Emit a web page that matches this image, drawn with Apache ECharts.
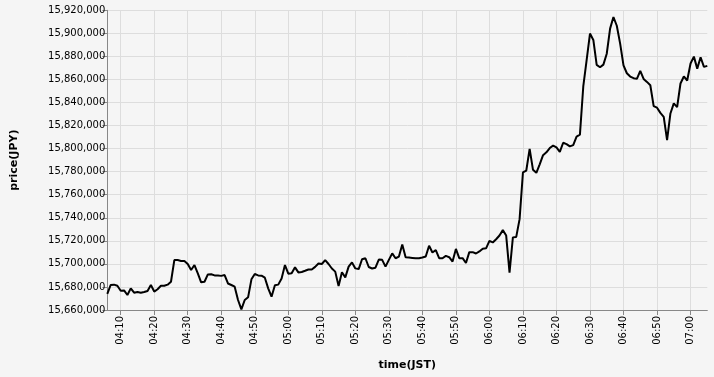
<!DOCTYPE html>
<html>
<head>
<meta charset="utf-8">
<script src="https://cdn.jsdelivr.net/npm/echarts@6/dist/echarts.min.js"></script>
<style>
html,body{margin:0;padding:0;background:#f5f5f5;}
#c{width:714px;height:377px;}
</style>
</head>
<body>
<div id="c"></div>
<script>
// one-minute sampling, 04:06 .. 07:05 (JST)
var startHour = 4, startMinute = 6;
var prices = [
15674000,15681700,15682000,15681000,15676700,15677000,15673000,15678800,15675000,15675600,
15675000,15675600,15676500,15681700,15676000,15678000,15681000,15681000,15682000,15684500,
15703300,15703300,15702500,15702500,15699900,15694700,15699000,15691800,15684000,15684500,
15690900,15691000,15690000,15690000,15689600,15690300,15683000,15681700,15680200,15668700,
15660600,15668700,15671000,15686600,15691200,15690000,15689800,15688000,15678800,15671500,
15681400,15682000,15687400,15699000,15691500,15691800,15697000,15692600,15693000,15694000,
15695100,15695100,15697400,15700400,15699900,15703300,15699900,15696000,15693300,15680800,
15692700,15688300,15697600,15701300,15696100,15695500,15704000,15704900,15697300,15696000,
15696700,15703800,15703500,15697600,15703500,15709100,15704900,15706400,15716900,15705800,
15705500,15705200,15704900,15704900,15705500,15706400,15715700,15709900,15712000,15704900,
15704900,15706900,15705800,15702000,15713000,15705000,15705000,15700800,15710200,15710200,
15709000,15710800,15713200,15713500,15719900,15718600,15721400,15724600,15729300,15724600,
15692500,15723000,15723400,15738800,15779300,15781000,15799800,15781600,15779000,15786400,
15794300,15796800,15800500,15802600,15801000,15797200,15805100,15803900,15801900,15803000,
15810500,15812100,15853900,15876700,15899800,15894300,15872600,15870600,15872900,15882300,
15904100,15914200,15906600,15891100,15872300,15865400,15862500,15861100,15860500,15867500,
15860500,15857900,15855000,15836800,15835500,15831000,15827600,15807300,15830500,15839200,
15836000,15856500,15862600,15859100,15873800,15879800,15869400,15879300,15870900,15871800
];
var yMin = 15660000, yMax = 15920000, yStep = 20000;
var tickEveryMinutes = 10;

function pad(n){return (n<10?'0':'')+n;}
var times = [];
for (var i = 0; i < prices.length; i++) {
  var m = startHour*60 + startMinute + i;
  times.push(pad(Math.floor(m/60)) + ':' + pad(m%60));
}
function isTick(idx, val){ return parseInt(val.split(':')[1],10) % tickEveryMinutes === 0; }

var font = 'DejaVu Sans';
var chart = echarts.init(document.getElementById('c'), null, {renderer:'canvas'});
chart.setOption({
  backgroundColor:'#f5f5f5',
  animation:false,
  grid:{left:107.3, right:6.7, top:10.3, bottom:67, containLabel:false},
  xAxis:{
    type:'category',
    data:times,
    boundaryGap:false,
    name:'time(JST)',
    nameLocation:'middle',
    nameGap:50,
    nameTextStyle:{fontFamily:font, fontWeight:'bold', fontSize:11, color:'#000'},
    axisLine:{lineStyle:{color:'#888', width:1}},
    axisTick:{interval:isTick, length:5, lineStyle:{color:'#888'}},
    axisLabel:{interval:isTick, rotate:90, fontFamily:font, fontSize:10, color:'#000', margin:6},
    splitLine:{show:true, interval:isTick, lineStyle:{color:'#ddd', width:1}}
  },
  yAxis:{
    type:'value',
    min:yMin, max:yMax, interval:yStep,
    name:'price(JPY)',
    nameLocation:'middle',
    nameGap:88,
    nameTextStyle:{fontFamily:font, fontWeight:'bold', fontSize:11, color:'#000'},
    axisLine:{show:true, lineStyle:{color:'#888', width:1}},
    axisTick:{show:true, length:5, lineStyle:{color:'#888'}},
    axisLabel:{fontFamily:font, fontSize:10, color:'#000', margin:2,
      formatter:function(v){return v.toLocaleString('en-US');}},
    splitLine:{show:true, lineStyle:{color:'#ddd', width:1}}
  },
  series:[{
    type:'line',
    data:prices,
    showSymbol:false,
    symbol:'none',
    lineStyle:{color:'#000', width:2},
    itemStyle:{color:'#000'}
  }]
});
</script>
</body>
</html>
